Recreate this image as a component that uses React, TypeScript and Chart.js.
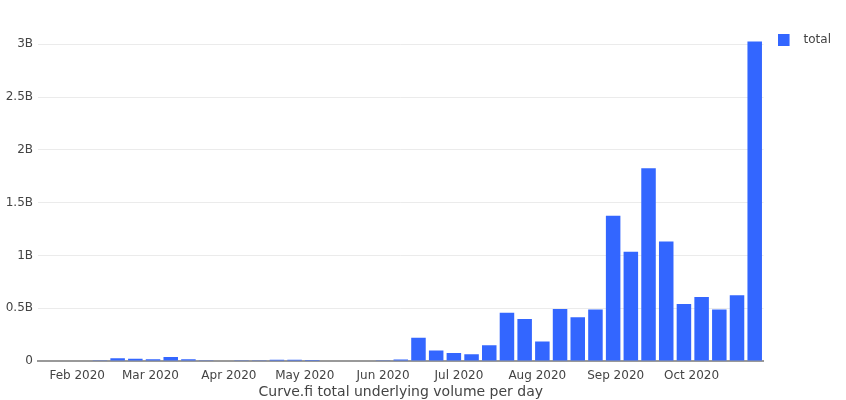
import React, { useEffect, useRef } from "react";
import { Chart, registerables } from "chart.js";

Chart.register(...registerables);

// Week start dates (Mondays)
const weeks: string[] = [
  "2020-01-20", "2020-01-27", "2020-02-03", "2020-02-10", "2020-02-17", "2020-02-24",
  "2020-03-02", "2020-03-09", "2020-03-16", "2020-03-23", "2020-03-30", "2020-04-06",
  "2020-04-13", "2020-04-20", "2020-04-27", "2020-05-04", "2020-05-11", "2020-05-18",
  "2020-05-25", "2020-06-01", "2020-06-08", "2020-06-15", "2020-06-22", "2020-06-29",
  "2020-07-06", "2020-07-13", "2020-07-20", "2020-07-27", "2020-08-03", "2020-08-10",
  "2020-08-17", "2020-08-24", "2020-08-31", "2020-09-07", "2020-09-14", "2020-09-21",
  "2020-09-28", "2020-10-05", "2020-10-12", "2020-10-19", "2020-10-26",
];

// Total underlying volume (billions of USD)
const totalB: number[] = [
  0, 0, 0, 0.006, 0.025, 0.022,
  0.016, 0.038, 0.016, 0.006, 0.004, 0.006,
  0.003, 0.012, 0.012, 0.01, 0.005, 0.004,
  0.005, 0.008, 0.015, 0.22, 0.1, 0.076,
  0.063, 0.149, 0.458, 0.398, 0.184, 0.492,
  0.414, 0.487, 1.377, 1.036, 1.825, 1.131,
  0.54, 0.606, 0.487, 0.622, 3.026,
];

const monthTickDates: string[] = [
  "2020-02-01", "2020-03-01", "2020-04-01", "2020-05-01", "2020-06-01",
  "2020-07-01", "2020-08-01", "2020-09-01", "2020-10-01",
];
const monthTickLabels: string[] = [
  "Feb 2020", "Mar 2020", "Apr 2020", "May 2020", "Jun 2020",
  "Jul 2020", "Aug 2020", "Sep 2020", "Oct 2020",
];

const yTickValuesB: number[] = [0, 0.5, 1, 1.5, 2, 2.5, 3];
const yTickLabels: string[] = ["0", "0.5B", "1B", "1.5B", "2B", "2.5B", "3B"];

const seriesName = "total";
const xTitle = "Curve.fi total underlying volume per day";

const BAR_COLOR = "#3366ff";
const FONT = "'DejaVu Sans', Verdana, sans-serif";

const EPOCH = Date.UTC(2020, 0, 1);
const dayOf = (s: string) => {
  const [y, m, d] = s.split("-").map(Number);
  return Math.round((Date.UTC(y, m - 1, d) - EPOCH) / 86400000);
};

export default function App() {
  const ref = useRef<HTMLCanvasElement | null>(null);

  useEffect(() => {
    if (!ref.current) return;

    // legend marker: 12x12 square with transparent space after it
    const marker = document.createElement("canvas");
    marker.width = 20;
    marker.height = 12;
    const mctx = marker.getContext("2d")!;
    mctx.fillStyle = BAR_COLOR;
    mctx.fillRect(0, 0, 12, 12);

    const days = weeks.map(dayOf);
    const data = days.map((d, i) => ({ x: d, y: totalB[i] * 1e9 }));
    const tickDays = monthTickDates.map(dayOf);

    const chart = new Chart(ref.current, {
      type: "bar",
      data: {
        datasets: [
          {
            label: seriesName,
            data,
            backgroundColor: BAR_COLOR,
            borderWidth: 0,
            barPercentage: 0.82,
            categoryPercentage: 1,
            pointStyle: marker as any,
          },
        ],
      },
      options: {
        animation: false,
        responsive: true,
        maintainAspectRatio: false,
        layout: { padding: { top: 20, right: 5, left: 0, bottom: 0 } },
        plugins: {
          tooltip: { enabled: false },
          legend: {
            position: "right",
            align: "start",
            labels: {
              usePointStyle: true,
              pointStyleWidth: 20,
              boxHeight: 12,
              padding: 14,
              color: "#444",
              font: { family: FONT, size: 12 },
            },
          },
        },
        scales: {
          x: {
            type: "linear",
            min: days[0] - 3.5,
            max: days[days.length - 1] + 3.5,
            offset: false,
            grid: { display: false, drawTicks: false },
            border: { display: true, color: "#999", width: 2 },
            afterBuildTicks: (scale: any) => {
              scale.ticks = tickDays.map((v) => ({ value: v }));
            },
            afterFit: (scale: any) => {
              scale.height = 39;
            },
            ticks: {
              autoSkip: false,
              maxRotation: 0,
              padding: 8,
              color: "#444",
              font: { family: FONT, size: 12 },
              callback: (value: any) => {
                const idx = tickDays.indexOf(Number(value));
                return idx >= 0 ? monthTickLabels[idx] : "";
              },
            },
            title: {
              display: true,
              text: xTitle,
              color: "#444",
              font: { family: FONT, size: 14 },
              padding: { top: 0, bottom: -1 },
            },
          },
          y: {
            type: "linear",
            min: 0,
            max: 3.23e9,
            grid: {
              color: (ctx: any) => (ctx.tick && ctx.tick.value === 0 ? "rgba(0,0,0,0)" : "#ebebeb"),
              lineWidth: 1,
              drawTicks: false,
            },
            border: { display: false },
            afterBuildTicks: (scale: any) => {
              scale.ticks = yTickValuesB.map((v) => ({ value: v * 1e9 }));
            },
            afterFit: (scale: any) => {
              scale.width = 38;
            },
            ticks: {
              padding: 5,
              color: "#444",
              font: { family: FONT, size: 12 },
              callback: (value: any) => {
                const idx = yTickValuesB.findIndex((v) => Math.abs(v * 1e9 - Number(value)) < 1);
                return idx >= 0 ? yTickLabels[idx] : "";
              },
            },
          },
        },
      },
    });

    return () => chart.destroy();
  }, []);

  return (
    <div style={{ position: "absolute", left: 0, top: 0, width: 846, height: 400 }}>
      <canvas ref={ref} />
    </div>
  );
}
